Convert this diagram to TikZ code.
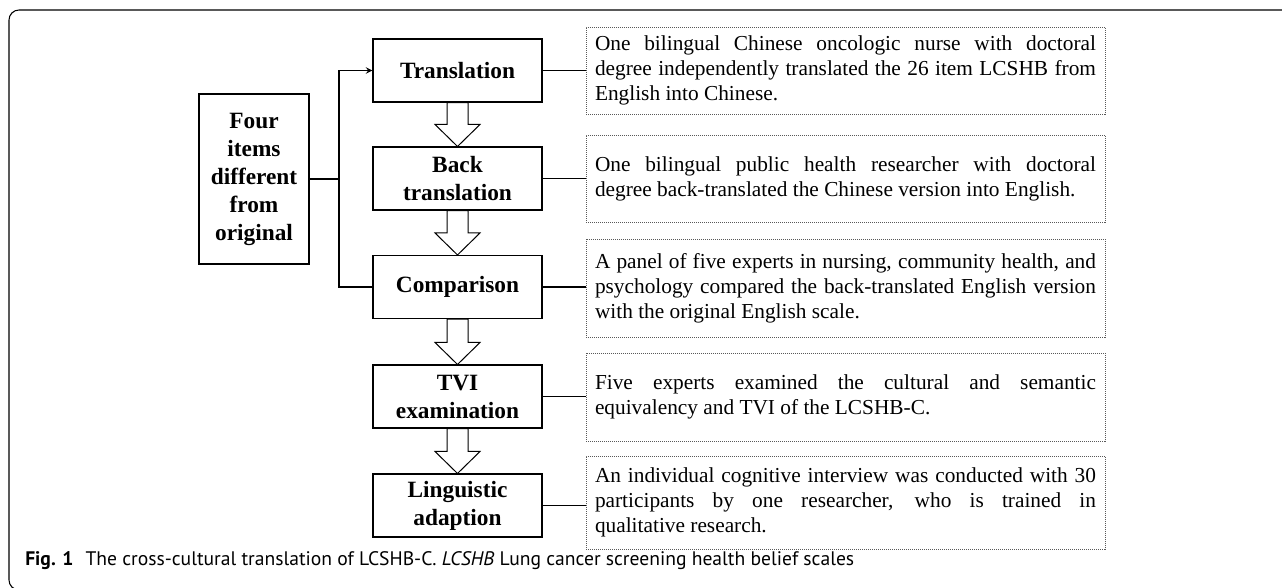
\documentclass[tikz,border=0pt]{standalone}
\usepackage{fontspec}
\setmainfont{Liberation Serif}
\newfontfamily\capfont{PT Sans}
\usetikzlibrary{calc}
\tikzstyle{stepNode}=[draw,line width=0.8pt,minimum width=126.75pt,minimum height=47.25pt,inner sep=0pt,align=center,font=\fontsize{17.5}{21}\selectfont\bfseries]
\tikzstyle{noteNode}=[draw=black!65,dash pattern=on 0.75pt off 0.75pt,line width=0.6pt,minimum width=389.25pt,text width=375.75pt,inner xsep=6.75pt,inner ysep=0pt,align=justify,font=\fontsize{16}{18.75}\selectfont]
\tikzstyle{link}=[line width=1.2pt]
\tikzstyle{hollowArrow}=[draw,fill=white,line width=0.75pt,line join=miter]

\begin{document}
\begin{tikzpicture}[x=0.75pt,y=-0.75pt]

    \useasboundingbox (0,0) rectangle (1282,588);
    \clip (0,0) rectangle (1282,588);
    \draw[line width=0.8pt,rounded corners=7.5pt] (1300,10) -- (9,10) -- (9,590) -- (1300,590);

    \node[stepNode,minimum width=82.5pt,minimum height=127.5pt] (four) at (254,179) {Four\\items\\different\\from\\original};
    \node[stepNode] (tr) at (457.5,70.5) {Translation};
    \node[stepNode] (bt) at (457.5,178.5) {Back\\translation};
    \node[stepNode] (cmp) at (457.5,287) {Comparison};
    \node[stepNode] (tvi) at (457.5,396.5) {TVI\\examination};
    \node[stepNode] (ling) at (457.5,505.5) {Linguistic\\adaption};

    \node[noteNode,minimum height=65.25pt] (n1) at (845.5,70.5) {One bilingual Chinese oncologic nurse with doctoral\linebreak degree independently translated the 26 item LCSHB from\linebreak English into Chinese.};
    \node[noteNode,minimum height=65.25pt] (n2) at (845.5,178.5) {One bilingual public health researcher with doctoral\linebreak degree back-translated the Chinese version into English.};
    \node[noteNode,minimum height=73.5pt] (n3) at (845.5,288) {A panel of five experts in nursing, community health, and\linebreak psychology compared the back-translated English version\linebreak with the original English scale.};
    \node[noteNode,minimum height=66pt] (n4) at (845.5,397) {Five experts examined the cultural and semantic\linebreak equivalency and TVI of the LCSHB-C.};
    \node[noteNode,minimum height=69.75pt] (n5) at (845.5,502.5) {An individual cognitive interview was conducted with 30\linebreak participants by one researcher, who is trained in\linebreak qualitative research.};

    \coordinate (split) at (339,179);
    \draw[link] (four.east) -- (split);
    \draw[link,-stealth] (split) |- (tr.west);
    \draw[link] (split) |- (cmp.west);

    \foreach \s/\n in {tr/n1,bt/n2,cmp/n3,tvi/n4,ling/n5}
        \draw[link] (\s.east) -- (\s.east -| \n.west);

    \foreach \a/\b in {tr/bt,bt/cmp,cmp/tvi,tvi/ling}
        \draw[hollowArrow] ($(\a.south)+(-10.5,0)$) -- ($(\b.north)+(-10.5,-22)$) -- ++(-12,0) -- (\b.north)
            -- ($(\b.north)+(22.5,-22)$) -- ++(-12,0) -- ($(\a.south)+(10.5,0)$) -- cycle;

    \node[anchor=base west,inner sep=0pt,font=\capfont\fontsize{14.7}{17}\selectfont] (cap) at (25,565) {\textbf{Fig. 1}\hspace{9pt}The cross-cultural translation of LCSHB-C. \textit{LCSHB} Lung cancer screening health belief scales};

\end{tikzpicture}
\end{document}
